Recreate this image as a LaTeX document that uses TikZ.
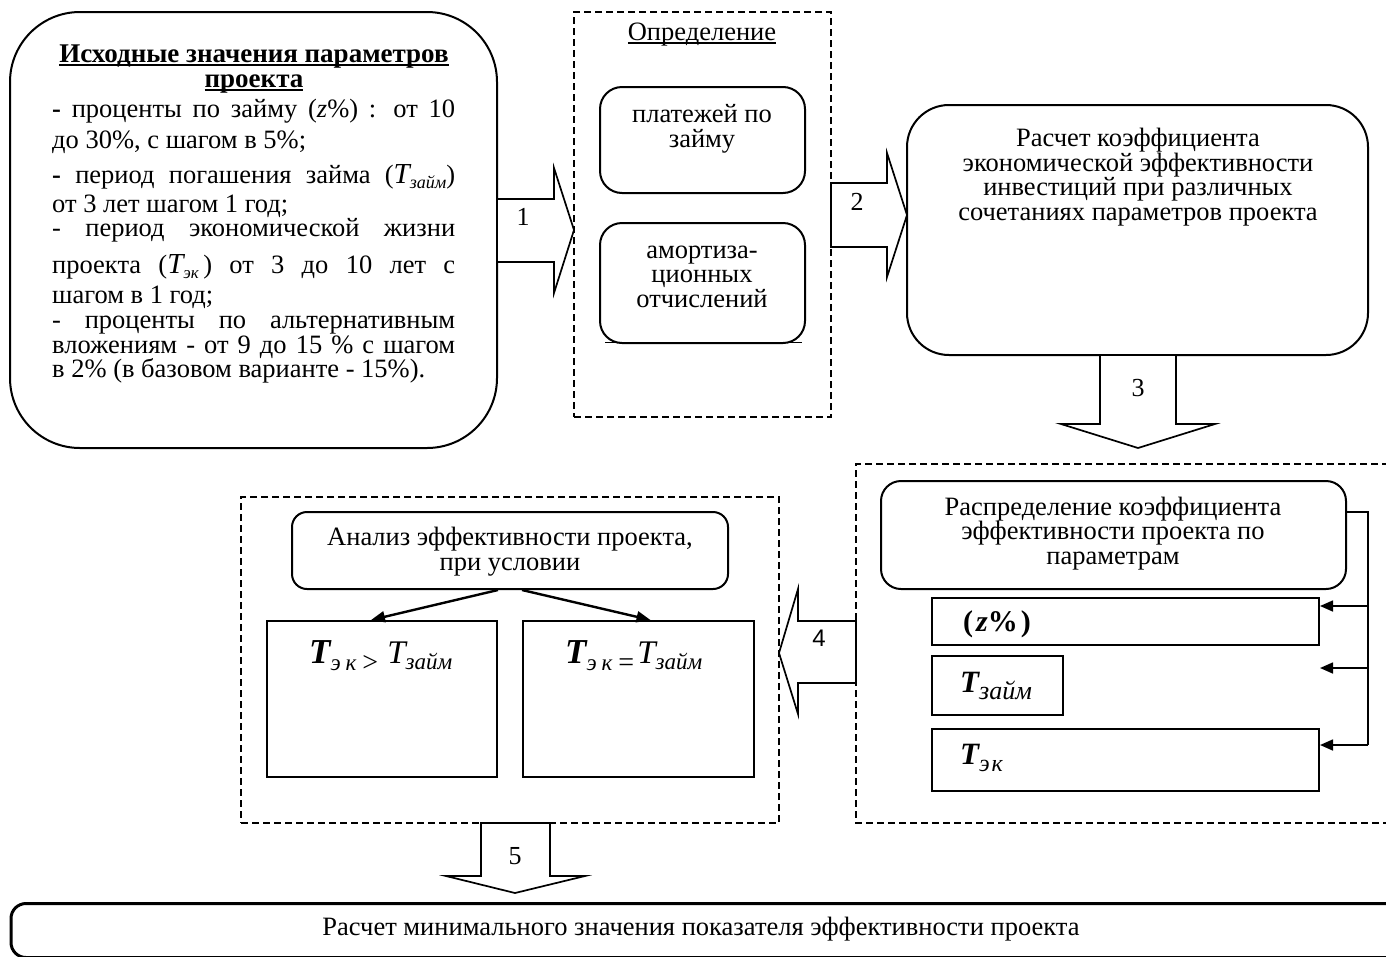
\documentclass[tikz,border=0pt]{standalone}
\usepackage{fontspec}
\setmainfont{Liberation Serif}
\newfontfamily\sansfont{Liberation Sans}
\usetikzlibrary{arrows.meta}
\newcommand{\fs}[1]{\fontsize{#1}{#1}\selectfont}
\newcommand{\fss}[2]{\fontsize{#1}{#2}\selectfont}
% underline at a given depth below the baseline
\newcommand{\ulat}[3]{\setbox0\hbox{#3}\rlap{\rule[-#1]{\wd0}{#2}}\box0}
% bold italic T with subscript
\newcommand{\Tb}[4]{{\fs{#1}\bfseries\itshape T}\raisebox{-#3}{\fs{#2}\itshape #4}}
% italic T with subscript
\newcommand{\Ti}[4]{{\fs{#1}\itshape T}\raisebox{-#3}{\fs{#2}\itshape #4}}
\tikzset{
  sbox/.style={draw, line width=2pt, inner sep=0pt},
  dbox/.style={draw, line width=1.8pt, dash pattern=on 7pt off 4pt},
  blk/.style={draw, line width=1.7pt, fill=white, line join=miter},
  conn/.style={line width=2.4pt, -{Triangle[length=14pt,width=11pt]}},
  conn2/.style={line width=1.6pt, -{Triangle[length=13pt,width=11pt]}},
  lbl/.style={font=\fs{26}, anchor=center, inner sep=0pt},
  txt/.style={anchor=base, align=center, inner sep=0pt, font=\fss{26.5}{24.5}},
  bodyl/.style={anchor=base west, inner sep=0pt, font=\fs{26.5}},
}
\begin{document}
\begin{tikzpicture}[x=1pt,y=-1pt]
\useasboundingbox (0,0) rectangle (1386,956);

% ---------- dashed groups ----------
\node[dbox, minimum width=257pt, minimum height=405pt, inner sep=0pt] (opr) at (702.5,214.5) {};
\node[dbox, minimum width=538pt, minimum height=326pt, inner sep=0pt] (anl) at (510,660) {};
\draw[dbox] (1400,464) -- (856,464) -- (856,823) -- (1400,823);

% ---------- box 1: initial parameters ----------
\node[sbox, rounded corners=70pt, minimum width=487pt, minimum height=436pt] (init) at (253.5,230) {};
\node[txt, font=\fs{27}\bfseries] (t1) at (254,62) {\ulat{3.5pt}{1.8pt}{Исходные значения параметров}};
\node[txt, font=\fs{27}\bfseries] (t2) at (254,87) {\ulat{4pt}{1.8pt}{проекта}};
\node[bodyl] (l1) at (52,117) {\makebox[403pt][s]{\textbf{-} проценты по займу (\textit{z}\%) : от 10}};
\node[bodyl] (l2) at (52,148) {до 30\%, с шагом в 5\%;};
\node[bodyl] (l3) at (52,183) {\makebox[403pt][s]{\textbf{-} период погашения займа (\Ti{29}{18}{5pt}{займ})}};
\node[bodyl] (l4) at (52,212) {от 3 лет шагом 1 год;};
\node[bodyl] (l5) at (52,236) {\makebox[403pt][s]{- период экономической жизни}};
\node[bodyl] (l6) at (52,273) {\makebox[403pt][s]{проекта (\Ti{29}{17}{5pt}{эк}\,) от 3 до 10 лет с}};
\node[bodyl] (l7) at (52,303) {шагом в 1 год;};
\node[bodyl] (l8) at (52,328) {\makebox[403pt][s]{- проценты по альтернативным}};
\node[bodyl] (l9) at (52,353) {\makebox[403pt][s]{вложениям - от 9 до 15 \% с шагом}};
\node[bodyl] (l10) at (52,377) {в 2\% (в базовом варианте - 15\%).};

% ---------- Определение ----------
\node[txt] (oprt) at (702,40) {\ulat{3.5pt}{1.3pt}{Определение}};
\node[sbox, rounded corners=22pt, minimum width=205pt, minimum height=106pt] (pay) at (702.5,140) {};
\node[txt] (payt) at (702,147) {платежей по\\займу};
\node[sbox, rounded corners=22pt, minimum width=205pt, minimum height=120pt] (amo) at (702.5,283) {};
\draw[line width=1.5pt] (605,342.5) -- (802,342.5);
\node[txt] (amot) at (702,307) {амортиза-\\ционных\\отчислений};

% ---------- Расчет коэффициента ----------
\node[sbox, rounded corners=42pt, minimum width=461pt, minimum height=250pt] (calc) at (1137.5,230) {};
\node[txt] (calct) at (1138,220) {Расчет коэффициента\\экономической эффективности\\инвестиций при различных\\сочетаниях параметров проекта};

% ---------- Распределение ----------
\node[sbox, rounded corners=20pt, minimum width=465pt, minimum height=108pt] (dist) at (1113.5,535) {};
\node[txt] (distt) at (1113,564) {Распределение коэффициента\\эффективности проекта по\\параметрам};
\node[sbox, line width=1.6pt, minimum width=387pt, minimum height=47pt] (pz) at (1125.5,621.5) {};
\node[anchor=base west, inner sep=0pt, font=\fs{30}\bfseries] (pzt) at (963,631) {(\hspace{3pt}\textit{z}\%\hspace{3pt})};
\node[sbox, line width=1.6pt, minimum width=131pt, minimum height=59pt] (pzm) at (997.5,685.5) {};
\node[anchor=base west, inner sep=0pt] (pzmt) at (960,692) {\Tb{31}{26}{7pt}{займ}};
\node[sbox, line width=1.6pt, minimum width=387pt, minimum height=62pt] (pek) at (1125.5,760) {};
\node[anchor=base west, inner sep=0pt] (pekt) at (960,764) {\Tb{31}{24}{7pt}{э\hspace{2pt}к}};
\coordinate (bust) at (1368,512);
\coordinate (busb) at (1368,745);
\draw[line width=1.6pt] (1346,512) -- (bust) -- (busb);
\draw[conn2] (1368,606) -- (1320,606);
\draw[conn2] (1368,668) -- (1320,668);
\draw[conn2] (busb) -- (1320,745);

% ---------- Анализ ----------
\node[sbox, rounded corners=15pt, minimum width=436pt, minimum height=77pt] (an) at (510,550.5) {};
\node[txt] (ant) at (510,570) {Анализ эффективности проекта,\\при условии};
\node[sbox, minimum width=230pt, minimum height=156pt] (gt) at (382,699) {};
\node[sbox, minimum width=231pt, minimum height=156pt] (eq) at (638.5,699) {};
\node[anchor=base west, inner sep=0pt] (gtt) at (309,663) {\Tb{35}{23}{7pt}{э\hspace{5pt}к}\hspace{6pt}\raisebox{-8pt}{\fs{28}>}\hspace{9pt}\Ti{33}{23}{6pt}{займ}};
\node[anchor=base west, inner sep=0pt] (eqt) at (565,663) {\Tb{35}{23}{7pt}{э\hspace{5pt}к}\hspace{6pt}\raisebox{-8pt}{\fs{28}=}\hspace{3pt}\Ti{33}{23}{6pt}{займ}};
\draw[conn] ([xshift=-12pt]an.south) -- ([xshift=-11pt]gt.north);
\draw[conn] ([xshift=12pt]an.south) -- ([xshift=12pt]eq.north);

% ---------- Bottom box ----------
\node[draw, line width=3pt, rounded corners=15pt, minimum width=1400pt, minimum height=54pt, anchor=north west, inner sep=0pt] (minb) at (9.5,902) {};
\node[txt] (minbt) at (701,935) {Расчет минимального значения показателя эффективности проекта};

% ---------- block arrows ----------
\draw[blk] (497,199) -- (554,199) -- (554,168) -- (574,230) -- (554,293) -- (554,262) -- (497,262) -- cycle;
\node[lbl] (a1) at (523,217) {1};
\draw[blk] (831,183) -- (887,183) -- (887,153) -- (907,215) -- (887,277) -- (887,247) -- (831,247) -- cycle;
\node[lbl] (a2) at (857,202) {2};
\draw[blk] (1100,355) -- (1100,424) -- (1061,424) -- (1138,448) -- (1215,424) -- (1176,424) -- (1176,355) -- cycle;
\node[lbl] (a3) at (1138,388) {3};
\draw[blk] (856,621) -- (798,621) -- (798,589) -- (779,653) -- (798,714) -- (798,683) -- (856,683) -- cycle;
\node[lbl, font=\fs{24}\sansfont] (a4) at (819,638) {4};
\draw[blk] (481,823) -- (481,876) -- (446,876) -- (515,893) -- (585,876) -- (550,876) -- (550,823) -- cycle;
\node[lbl] (a5) at (515,856) {5};
\end{tikzpicture}
\end{document}
